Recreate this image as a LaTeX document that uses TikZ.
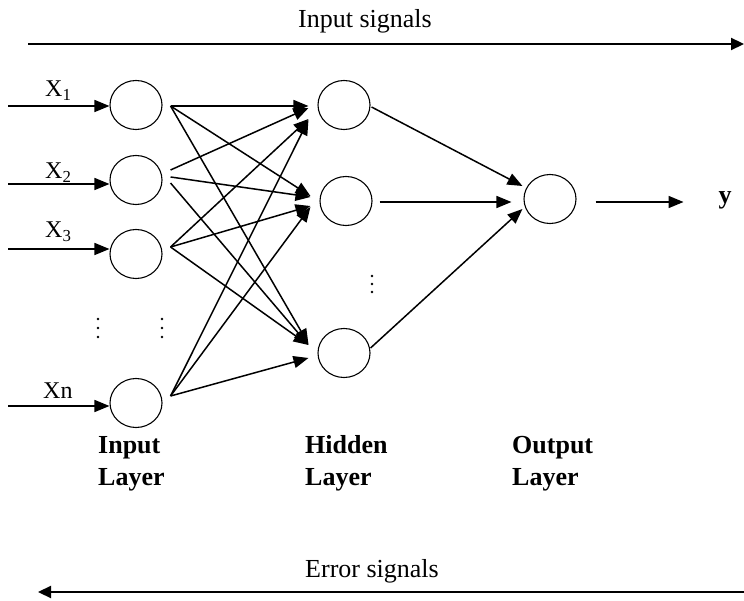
\documentclass[tikz,border=0pt]{standalone}
\usepackage{fontspec}
\setmainfont{Liberation Serif}
\usetikzlibrary{arrows.meta,shapes.geometric,calc}
\begin{document}
\begin{tikzpicture}[x=1pt,y=-1pt,
  neuron/.style={ellipse,draw,line width=1.1pt,minimum width=52pt,minimum height=49pt,inner sep=0pt},
  conn/.style={line width=1.5pt,-{Triangle[length=15pt,width=12pt]}},
  bigarrow/.style={line width=2.2pt,-{Triangle[length=13pt,width=12pt]}},
  sig/.style={font=\fontsize{26}{30}\selectfont,inner sep=0pt,anchor=base},
  xlbl/.style={font=\fontsize{24}{28}\selectfont,inner sep=0pt,anchor=base west},
  blbl/.style={font=\fontsize{26}{30}\selectfont\bfseries,inner sep=0pt,anchor=base west},
  dotmark/.style={fill=black}
]
\useasboundingbox (0,0) rectangle (744,601);

% top and bottom signal arrows
\node[sig] (insig) at (365,28) {Input signals};
\coordinate (ta) at (28,44);
\coordinate (tb) at (744,44);
\draw[bigarrow] (ta) -- (tb);
\node[sig] (errsig) at (372,577) {Error signals};
\coordinate (ba) at (744,592);
\coordinate (bb) at (38,592);
\draw[bigarrow] (ba) -- (bb);

% neurons
\node[neuron] (i1) at (136,105) {};
\node[neuron] (i2) at (136,180) {};
\node[neuron] (i3) at (136,254) {};
\node[neuron] (in) at (136,403) {};
\node[neuron] (h1) at (344,105) {};
\node[neuron] (h2) at (346,201) {};
\node[neuron] (h3) at (344,353) {};
\node[neuron] (o) at (550,199) {};

% input labels
\node[xlbl] (x1) at (45,97) {X\textsubscript{1}};
\node[xlbl] (x2) at (45,179) {X\textsubscript{2}};
\node[xlbl] (x3) at (45,238) {X\textsubscript{3}};
\node[xlbl] (xn) at (43,399) {Xn};

% input arrows
\coordinate (s1) at (8,106);
\coordinate (s2) at (8,184);
\coordinate (s3) at (8,249);
\coordinate (sn) at (8,406);
\draw[conn] (s1) -- (s1 -| i1.west);
\draw[conn] (s2) -- (s2 -| i2.west);
\draw[conn] (s3) -- (s3 -| i3.west);
\draw[conn] (sn) -- (sn -| in.west);

% input -> hidden
\draw[conn] ($(i1.east)+(8,1)$) -- ($(h1.west)+(-9,1)$);
\draw[conn] ($(i1.east)+(8,1)$) -- ($(h2.west)+(-9,-5)$);
\draw[conn] ($(i1.east)+(8,1)$) -- ($(h3.west)+(-9,-9)$);
\draw[conn] ($(i2.east)+(8,-10)$) -- ($(h1.west)+(-9,3)$);
\draw[conn] ($(i2.east)+(8,-3)$) -- ($(h2.west)+(-9,-4)$);
\draw[conn] ($(i2.east)+(8,3)$) -- ($(h3.west)+(-9,-8)$);
\draw[conn] ($(i3.east)+(8,-7)$) -- ($(h1.west)+(-9,14)$);
\draw[conn] ($(i3.east)+(8,-7)$) -- ($(h2.west)+(-9,5)$);
\draw[conn] ($(i3.east)+(8,-7)$) -- ($(h3.west)+(-9,-8)$);
\draw[conn] ($(in.east)+(8,-7)$) -- ($(h1.west)+(-9,15)$);
\draw[conn] ($(in.east)+(8,-7)$) -- ($(h2.west)+(-9,6)$);
\draw[conn] ($(in.east)+(8,-7)$) -- ($(h3.west)+(-9,5)$);

% hidden -> output
\draw[conn] ($(h1.east)+(1,2)$) -- ($(o.west)+(-1,-13)$);
\draw[conn] ($(h2.east)+(7,1)$) -- ($(o.west)+(-12,3)$);
\draw[conn] ($(h3.east)+(0,-5)$) -- ($(o.west)+(-1,10)$);

% output
\node[font=\fontsize{26}{30}\selectfont\bfseries,inner sep=0pt,anchor=base] (y) at (725,204) {y};
\draw[conn] ($(o.east)+(19,3)$) -- ($(o.east)+(107,3)$);

% dots
\foreach \yy in {319,328,337} {
  \fill[dotmark] (98,\yy) circle (1.4);
  \fill[dotmark] (162,\yy) circle (1.4);
}
\foreach \yy in {276,284,292} {
  \fill[dotmark] (372,\yy) circle (1.4);
}

% layer labels
\node[blbl] (il1) at (98,453) {Input};
\node[blbl] (il2) at (98,485) {Layer};
\node[blbl] (hl1) at (305,453) {Hidden};
\node[blbl] (hl2) at (305,485) {Layer};
\node[blbl] (ol1) at (512,453) {Output};
\node[blbl] (ol2) at (512,485) {Layer};
\end{tikzpicture}
\end{document}
